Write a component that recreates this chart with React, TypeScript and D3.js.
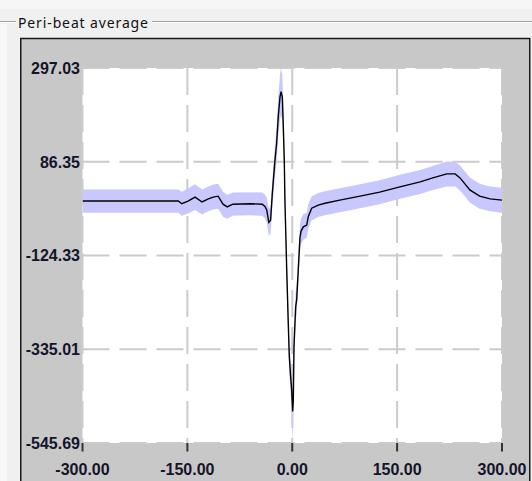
import React from 'react';
import * as d3 from 'd3';

// peri-beat average (time in ms, amplitude in a.u.)
const times = [-300, -200, -163, -158, -149, -139, -129, -120, -113, -106, -99, -93, -85, -60, -43, -39, -36.5, -33.5, -31, -28.5,
    -24.7, -22.3, -20, -17.5, -16, -14.2, -12.8, -11.4, -10.4, -9, -8, -5.7, -4.2, -2.5, -0.8, 0.6, 1.5, 2.5, 4.9, 6.3,
    8.6, 10.1, 11, 12.5, 15.8, 20.7, 22.9, 27.8, 37.2, 46.8, 68, 97, 125, 154, 183, 201, 221, 233, 240, 254,
    268, 283, 300];
const means = [-2, -2, -2, -8, -2, 7, -4, 3, 7, 9, -9, -15, -9, -8, -9, -14, -22, -50, -45, 15,
    90, 128, 188, 232, 244, 232, 165, 90, -6, -89, -152, -276, -352, -393, -427, -475, -449, -329, -239, -224,
    -157, -112, -85, -70, -60, -56, -37, -18, -11, -7, 0, 9, 18, 30, 41, 50, 59, 59, 50, 23,
    9, 3, 0];
const spreads = [26, 26, 26, 27, 28, 29, 28, 28, 28, 28, 28, 27, 26, 26, 26, 27, 28, 30, 30, 32,
    36, 40, 45, 50, 53, 50, 45, 40, 38, 36, 35, 34, 34, 36, 45, 70, 55, 40, 33, 32,
    31, 30, 30, 29, 29, 28, 28, 27, 27, 27, 27, 27, 27, 27, 27, 27, 28, 28, 28, 28,
    28, 28, 28];

const xTicks = [-300, -150, 0, 150, 300];
const yTicks = [297.03, 86.35, -124.33, -335.01, -545.69];

const W = 532;
const H = 481;

export default function App() {
    const x = d3.scaleLinear().domain([-300, 300]).range([82.5, 502]);
    const y = d3.scaleLinear().domain([-545.69, 297.03]).range([443, 68]);

    const pts = times.map((t, i) => ({ t, m: means[i], s: spreads[i] }));

    const band = d3.area<any>()
        .x(d => x(d.t))
        .y0(d => y(d.m - d.s))
        .y1(d => y(d.m + d.s));

    const line = d3.line<any>()
        .x(d => x(d.t))
        .y(d => y(d.m));

    const grid = '#cbcbcb';
    const labelFont = '"Liberation Sans", Arial, sans-serif';

    return (
        <svg width={W} height={H} style={{ position: 'absolute', left: 0, top: 0, display: 'block' }}>
            <defs>
                <clipPath id="plotClip">
                    <rect x={82.5} y={68} width={419.5} height={375} />
                </clipPath>
            </defs>

            {/* dialog background + group box */}
            <rect x={0} y={0} width={W} height={H} fill="#f0f0f0" />
            <rect x={0} y={0} width={W} height={9} fill="#f6f6f6" />
            <rect x={0} y={24} width={7} height={H - 24} fill="#f7f7f7" />
            <line x1={0} x2={W} y1={21.5} y2={21.5} stroke="#a0a0a0" />
            <line x1={0} x2={W} y1={22.5} y2={22.5} stroke="#ffffff" />
            <rect x={16} y={14} width={136} height={16} fill="#f0f0f0" />
            <text x={18} y={27.5} fontFamily={'"Noto Sans", "DejaVu Sans", sans-serif'} fontSize={14}
                textLength={130} lengthAdjust="spacing" fill="#111">Peri-beat average</text>

            {/* chart panel */}
            <rect x={20.75} y={38.5} width={509} height={H} fill="#c8c8c8" stroke="#1a1a1a" strokeWidth={1.5} />

            {/* plot area */}
            <rect x={82.5} y={68} width={419.5} height={375} fill="#ffffff" />

            {/* grid */}
            {xTicks.map(t => (
                <line key={'gx' + t} x1={x(t)} x2={x(t)} y1={68} y2={443}
                    stroke={grid} strokeWidth={2} strokeDasharray="27,10" />
            ))}
            {yTicks.map(t => (
                <line key={'gy' + t} x1={82.5} x2={502} y1={y(t)} y2={y(t)}
                    stroke={grid} strokeWidth={2} strokeDasharray="27,10" />
            ))}

            {/* data */}
            <g clipPath="url(#plotClip)">
                <path d={band(pts) || ''} fill="#c8c8ff" stroke="none" />
                <path d={line(pts) || ''} fill="none" stroke="#000" strokeWidth={1.4} />
            </g>

            {/* x axis */}
            {xTicks.map(t => (
                <g key={'xt' + t}>
                    <line x1={x(t)} x2={x(t)} y1={443} y2={451.5} stroke="#333" strokeWidth={2} />
                    <text x={x(t)} y={475} textAnchor="middle" fontFamily={labelFont} fontWeight="bold"
                        fontSize={16} fill="#14142a">{t.toFixed(2)}</text>
                </g>
            ))}

            {/* y axis labels */}
            {yTicks.map(t => (
                <text key={'yt' + t} x={80} y={y(t) + 5.8} textAnchor="end" fontFamily={labelFont}
                    fontWeight="bold" fontSize={16} fill="#14142a">{t.toFixed(2)}</text>
            ))}
        </svg>
    );
}
